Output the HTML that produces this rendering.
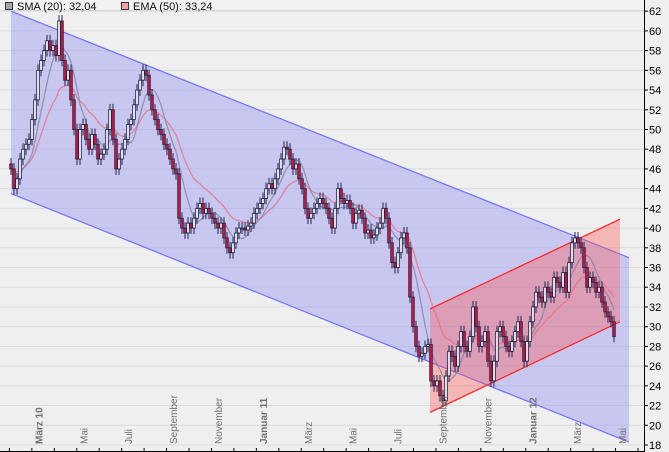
<!DOCTYPE html>
<html><head><meta charset="utf-8"><style>
html,body{margin:0;padding:0;background:#eeeeee;}
svg{display:block;font-family:"Liberation Sans",sans-serif;}
</style></head><body>
<svg id="chart" width="669" height="452" viewBox="0 0 669 452" xmlns="http://www.w3.org/2000/svg">
<rect x="0" y="0" width="669" height="452" fill="#efefef"/>
<g id="grid"></g>
<g id="channels"></g>
<g id="inds"></g>
<g id="candles"></g>
<g id="axes"></g>
<g>
<rect x="0" y="0" width="644" height="10" fill="#f2f2f2"/>
<line x1="0" y1="10.5" x2="644" y2="10.5" stroke="#d6d6d6"/>
<g><rect x="5.5" y="2.5" width="7" height="7" fill="#a8a8a8" stroke="#333"/><text x="17" y="10" font-size="11" fill="#111">SMA (20): 32,04</text></g>
<g><rect x="121.5" y="2.5" width="7" height="7" fill="#f4a0a0" stroke="#333"/><text x="133" y="10" font-size="11" fill="#111">EMA (50): 33,24</text></g>
</g>
</svg>
<script>
const closes=[46,44,45,47,48,48.5,49,51,53,56,57,58,59,58,58.5,57.5,61,57,55,56,53,50,47,50,50.5,49,48,49.5,48.5,47,47.5,48,50,52,49,46,47,48,49,50.5,51,52.5,54,55,56,55.5,53.5,52,51,50,49.5,48.5,48,47,46,45.5,41,40,39.5,40.5,40,41,42,42.5,41.5,42,41.5,41,40.5,40,40.5,39,38,37.5,38.5,39.5,40,40,39.8,40.2,40.5,41.5,42,42.5,43,44,44.5,44,45,46,47,48.2,48,47,46,46.5,45,44,42,41,41.5,42,42.5,43,42.5,42,41,40,42,44,43,42.5,42.8,42,40.5,41.5,41.8,41,39.5,39.8,39,39.3,40,40.5,42,41,38.5,36.5,36,37.5,39,39.5,38,33,30,28,27,27.3,28,28.2,24.5,24,24.5,23,22.5,25,27.5,27,26,28,29.5,28,27.5,29,32,30,28,28.5,29.5,26.5,24.5,26.5,29.5,30,29,28,27.5,28.5,29.5,30.5,28.5,26.5,28.5,30.5,32,33.5,33,32.5,34,33.5,33,35,34.5,34,35.5,33.5,36.5,38.5,39,38.5,38,36,34,35,34.5,33.5,34,32.5,31.5,31,30.5,29];
const firstOpen=46.5;
const yTicks=[18,20,22,24,26,28,30,32,34,36,38,40,42,44,46,48,50,52,54,56,58,60,62];
const monthLabels=["","März 10","","Mai","","Juli","","September","","November","","Januar 11","","März","","Mai","","Juli","","September","","November","","Januar 12","","März","","Mai","",""];
const boldLabels=["März 10","Januar 11","Januar 12"];
const blueChannel={x1:11,x2:629,upper:[62.0,37.0],lower:[43.5,18.3]};
const redChannel={x1:430,x2:620,upper:[31.8,40.9],lower:[21.3,30.5]};

const NS="http://www.w3.org/2000/svg";
const X0=11,STEP=3,PL=0,PR=644;
const y=v=>445-(v-18)*9.86;
const xi=i=>X0+i*STEP;
const xm=m=>9.4+m*22.45;
function mk(tag,at,parent){const e=document.createElementNS(NS,tag);for(const k in at)e.setAttribute(k,at[k]);parent.appendChild(e);return e;}
const G=id=>document.getElementById(id);

// grid
yTicks.forEach(v=>{const l=mk('line',{x1:0,x2:PR,y1:y(v),y2:y(v),stroke:'#dcdcdc','stroke-width':1},G('grid'));

});

// channels
function channel(c,fill,stroke,name){
 const g=G('channels');
 const p=mk('polygon',{points:`${c.x1},${y(c.upper[0])} ${c.x2},${y(c.upper[1])} ${c.x2},${y(c.lower[1])} ${c.x1},${y(c.lower[0])}`,fill:fill},g);
 
 
 const a=mk('line',{x1:c.x1,y1:y(c.upper[0]),x2:c.x2,y2:y(c.upper[1]),stroke:stroke,'stroke-width':1.2},g);
 
 
 const b=mk('line',{x1:c.x1,y1:y(c.lower[0]),x2:c.x2,y2:y(c.lower[1]),stroke:stroke,'stroke-width':1.2},g);
 
 
}
channel(blueChannel,'rgba(150,150,240,0.45)','#7070ff','blue-channel');
channel(redChannel,'rgba(255,90,90,0.38)','#ff2020','red-channel');

// indicators
const sma=[],ema=[];let e=closes[0];const k=2/(18+1);
closes.forEach((c,i)=>{const s=closes.slice(Math.max(0,i-6),i+1);sma.push(s.reduce((a,b)=>a+b,0)/s.length);e=i?c*k+e*(1-k):c;ema.push(e);});
function line(arr,col,name){const d=arr.map((v,i)=>(i?'L':'M')+xi(i).toFixed(1)+','+y(v).toFixed(1)).join('');
 const p=mk('path',{d:d,fill:'none',stroke:col,'stroke-width':1.3},G('inds'));
 
 }
line(ema,'rgba(235,110,130,0.75)','ema-line');
line(sma,'rgba(130,130,160,0.75)','sma-line');

// candles
closes.forEach((c,i)=>{
 const o=i?closes[i-1]:firstOpen;const hi=Math.max(o,c)+0.6,lo=Math.min(o,c)-0.6;const x=xi(i);
 const g=mk('g',{},G('candles'));
 
 
 mk('line',{x1:x,x2:x,y1:y(hi),y2:y(lo),stroke:'#25254a','stroke-width':1},g);
 const top=y(Math.max(o,c)),h=Math.max(1,Math.abs(y(o)-y(c)));
 mk('rect',{x:x-1.3,y:top,width:2.6,height:h,fill:c>=o?'#ffffff':'#e0103a',stroke:'#25254a','stroke-width':0.9},g);
});

// axes
const ax=G('axes');
const yl=mk('line',{x1:644.5,x2:644.5,y1:0,y2:452,stroke:'#000','stroke-width':1},ax);


yTicks.forEach(v=>{mk('line',{x1:644,x2:648,y1:y(v),y2:y(v),stroke:'#000'},ax);
 const t=mk('text',{x:649,y:y(v)+4,'font-size':11,fill:'#000'},ax);t.textContent=v;
 
 });
const xl=mk('line',{x1:0,x2:644,y1:451.5,y2:451.5,stroke:'#000'},ax);


monthLabels.forEach((lab,m)=>{const x=xm(m);if(x>644)return;
 mk('line',{x1:x,x2:x,y1:448,y2:452,stroke:'#000'},ax);
 if(!lab)return;
 const tx=x+10.5;
 const t=mk('text',{x:tx,y:444,transform:`rotate(-90 ${tx} 444)`,'font-size':10,fill:'#707070','font-weight':boldLabels.includes(lab)?'bold':'normal'},ax);
 t.textContent=lab;
 
 });
</script>
</body></html>
